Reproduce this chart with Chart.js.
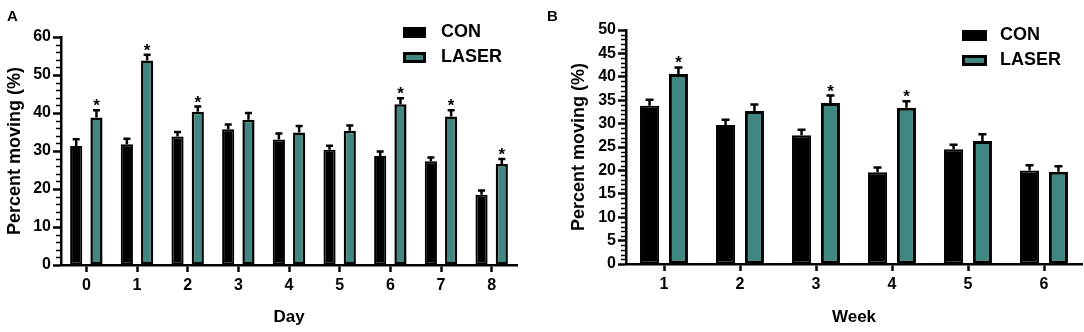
<!DOCTYPE html>
<html>
<head>
<meta charset="utf-8">
<script src="https://cdn.jsdelivr.net/npm/chart.js@4.4.0/dist/chart.umd.min.js"></script>
<style>
  body { margin: 0; background: #fff; }
  .row { display: flex; width: 1084px; height: 332px; }
</style>
</head>
<body>
<div class="row">
  <canvas id="dayChart" width="540" height="332"></canvas>
  <canvas id="weekChart" width="544" height="332"></canvas>
</div>
<script>
// Panel A - by day
const dayLabels = ["0", "1", "2", "3", "4", "5", "6", "7", "8"];
const dayCon = [31.3, 31.8, 33.8, 35.7, 33.0, 30.3, 28.7, 27.3, 18.5];
const dayConErr = [1.8, 1.4, 1.2, 1.3, 1.6, 1.1, 1.2, 1.0, 1.1];
const dayLaser = [38.8, 53.8, 40.3, 38.2, 34.9, 35.3, 42.3, 39.1, 26.6];
const dayLaserErr = [1.9, 1.5, 1.4, 1.8, 1.7, 1.4, 1.6, 1.6, 1.3];
const daySig = [true, true, true, false, false, false, true, true, true];

// Panel B - by week
const weekLabels = ["1", "2", "3", "4", "5", "6"];
const weekCon = [33.8, 29.7, 27.5, 19.6, 24.5, 20.0];
const weekConErr = [1.3, 1.1, 1.2, 1.0, 1.0, 1.1];
const weekLaser = [40.6, 32.7, 34.4, 33.4, 26.3, 19.7];
const weekLaserErr = [1.4, 1.4, 1.6, 1.4, 1.4, 1.2];
const weekSig = [true, false, true, true, false, false];

const seriesNames = ["CON", "LASER"];
const colors = ["#000000", "#418781"];
const FONT = '"Liberation Sans", Arial, sans-serif';

Chart.defaults.font.family = FONT;
Chart.defaults.color = "#000";

// error bars, asterisks, minor ticks, legend and panel letter
const extras = {
  id: "extras",
  afterDatasetsDraw(chart, args, opts) {
    const ctx = chart.ctx;
    const y = chart.scales.y;
    ctx.save();
    ctx.strokeStyle = "#000";
    ctx.fillStyle = "#000";
    ctx.lineWidth = 2.5;
    chart.data.datasets.forEach((ds, di) => {
      const meta = chart.getDatasetMeta(di);
      meta.data.forEach((bar, i) => {
        const capY = y.getPixelForValue(ds.data[i] + ds.errors[i]);
        ctx.beginPath();
        ctx.moveTo(bar.x, bar.y);
        ctx.lineTo(bar.x, capY);
        ctx.moveTo(bar.x - opts.cap / 2, capY);
        ctx.lineTo(bar.x + opts.cap / 2, capY);
        ctx.stroke();
        if (ds.stars && ds.stars[i]) {
          ctx.font = "bold 17px " + FONT;
          ctx.textAlign = "center";
          ctx.textBaseline = "alphabetic";
          ctx.fillText("*", bar.x, capY + 1);
        }
      });
    });

    // minor ticks on the y axis
    ctx.lineWidth = 1.5;
    ctx.beginPath();
    for (let v = y.min; v <= y.max; v += opts.minor) {
      if (v % opts.major === 0) continue;
      const py = Math.round(y.getPixelForValue(v)) + 0.5;
      ctx.moveTo(y.right - 5, py);
      ctx.lineTo(y.right, py);
    }
    ctx.stroke();
    ctx.restore();
  },
  afterDraw(chart, args, opts) {
    const ctx = chart.ctx;
    const area = chart.chartArea;
    ctx.save();
    // legend
    const lx = area.right + opts.legendX;
    chart.data.datasets.forEach((ds, i) => {
      const ly = opts.legendY + i * 25;
      ctx.fillStyle = ds.backgroundColor;
      ctx.fillRect(lx, ly, opts.boxW, 11);
      ctx.strokeStyle = "#000";
      ctx.lineWidth = 3;
      ctx.strokeRect(lx + 1.5, ly + 1.5, opts.boxW - 3, 8);
      ctx.fillStyle = "#000";
      ctx.font = "bold 18px " + FONT;
      ctx.textAlign = "left";
      ctx.textBaseline = "middle";
      ctx.fillText(ds.label, lx + 38, ly + 5);
    });
    // panel letter
    ctx.font = "bold 15px " + FONT;
    ctx.textAlign = "left";
    ctx.textBaseline = "alphabetic";
    ctx.fillText(opts.panel, opts.panelX, 21);
    ctx.restore();
  }
};

function makeChart(id, labels, con, conErr, laser, laserErr, sig, cfg) {
  const ctx = document.getElementById(id).getContext("2d");
  return new Chart(ctx, {
    type: "bar",
    data: {
      labels: labels,
      datasets: [
        {
          label: seriesNames[0],
          data: con,
          errors: conErr,
          stars: null,
          backgroundColor: colors[0],
          borderColor: "#000",
          borderWidth: 2,
          borderSkipped: false
        },
        {
          label: seriesNames[1],
          data: laser,
          errors: laserErr,
          stars: sig,
          backgroundColor: colors[1],
          borderColor: "#000",
          borderWidth: cfg.laserBorder,
          borderSkipped: false
        }
      ]
    },
    options: {
      responsive: false,
      animation: false,
      categoryPercentage: cfg.catPct,
      barPercentage: cfg.barPct,
      layout: { padding: cfg.padding },
      scales: {
        x: {
          afterFit(scale) { scale.height = cfg.xHeight; },
          border: { color: "#000", width: 2.5 },
          grid: {
            offset: false,
            drawOnChartArea: false,
            tickLength: 7,
            tickWidth: 2.5,
            tickColor: "#000"
          },
          ticks: {
            padding: 4,
            font: { size: 16, weight: "bold" }
          },
          title: {
            display: true,
            text: cfg.xTitle,
            font: { size: 17, weight: "bold" },
            padding: { top: 4, bottom: 4 }
          }
        },
        y: {
          min: 0,
          max: cfg.yMax,
          afterFit(scale) { scale.width = cfg.yWidth; },
          border: { color: "#000", width: 2.5 },
          grid: {
            drawOnChartArea: false,
            tickLength: 8,
            tickWidth: 2.5,
            tickColor: "#000"
          },
          ticks: {
            stepSize: cfg.major,
            padding: 2,
            font: { size: 16, weight: "bold" }
          },
          title: {
            display: true,
            text: "Percent moving (%)",
            font: { size: 18, weight: "bold" },
            padding: { top: 4, bottom: 4 }
          }
        }
      },
      plugins: {
        legend: { display: false },
        tooltip: { enabled: false },
        extras: {
          cap: cfg.cap,
          major: cfg.major,
          minor: cfg.minor,
          legendX: cfg.legendX,
          legendY: cfg.legendY,
          boxW: cfg.boxW,
          panel: cfg.panel,
          panelX: cfg.panelX
        }
      }
    },
    plugins: [extras]
  });
}

makeChart("dayChart", dayLabels, dayCon, dayConErr, dayLaser, dayLaserErr, daySig, {
  catPct: 0.8, barPct: 0.6, laserBorder: 2.5,
  padding: { left: 0, top: 37, right: 23, bottom: 0 },
  yWidth: 61, xHeight: 67,
  yMax: 60, major: 10, minor: 2,
  xTitle: "Day", cap: 7,
  legendX: -114, legendY: 27, boxW: 23,
  panel: "A", panelX: 7
});

makeChart("weekChart", weekLabels, weekCon, weekConErr, weekLaser, weekLaserErr, weekSig, {
  catPct: 0.76, barPct: 0.66, laserBorder: 3,
  padding: { left: 24, top: 30, right: 2, bottom: 0 },
  yWidth: 62, xHeight: 68,
  yMax: 50, major: 5, minor: 1,
  xTitle: "Week", cap: 8,
  legendX: -120, legendY: 30, boxW: 25,
  panel: "B", panelX: 7
});
</script>
</body>
</html>
